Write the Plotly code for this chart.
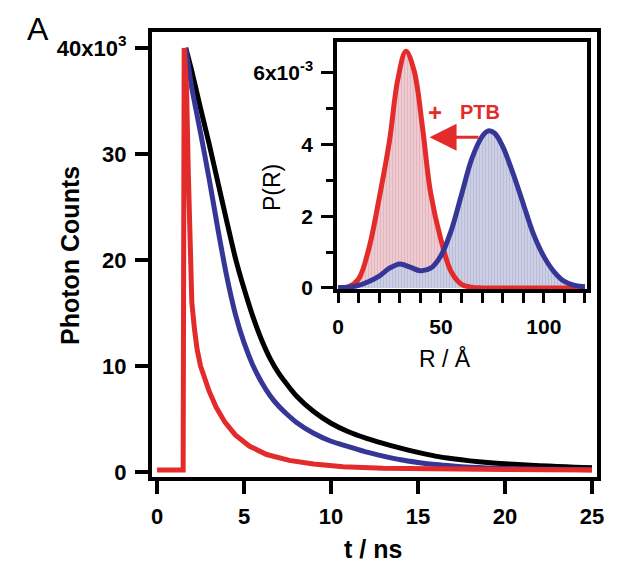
import plotly.graph_objects as go

# decay curves (t in ns, photon counts)
t_decay = [1.65, 2.0, 2.5, 3.0, 3.5, 4.0, 4.5, 5.0, 5.5, 6.0, 6.5, 7.0, 7.5, 8.0, 9.0, 10.0,
           11.0, 12.0, 13.0, 14.0, 15.0, 16.0, 17.0, 18.0, 19.0, 20.0, 21.0, 22.0, 23.0, 24.0, 25.0]
counts_black = [40000, 37800, 34300, 30900, 27300, 23700, 20200, 17300, 14700, 12500, 10700,
                9300, 8200, 7200, 5700, 4600, 3800, 3200, 2700, 2250, 1850, 1500, 1250, 1050, 900,
                780, 680, 600, 520, 460, 400]
counts_blue = [40000, 36200, 32000, 27600, 22900, 18500, 14900, 12200, 10100, 8500, 7200, 6200,
               5400, 4700, 3650, 2900, 2400, 1900, 1500, 1150, 900, 700, 560, 460, 390, 340,
               300, 270, 250, 230, 220]

t_red = [0, 1.5, 1.56, 1.7, 1.8, 1.9, 2.0, 2.15, 2.3, 2.5, 2.75, 3.0, 3.4, 3.9, 4.5, 5.3, 6.3,
         7.6, 9.0, 10.7, 13.0, 16.0, 20.0, 25.0]
counts_red = [200, 200, 40000, 36000, 28000, 20500, 16000, 13500, 11600, 10000, 8700, 7600, 6100,
              4700, 3500, 2450, 1650, 1100, 750, 500, 350, 280, 230, 200]

# distance distributions (R in Angstrom, P(R) in units of 1e-3)
r_red = [0, 5, 10, 15, 20, 25, 29, 33, 37, 41, 45, 50, 55, 60, 65, 70, 80, 90, 100, 110, 120]
p_red = [0, 0.03, 0.25, 1.1, 2.5, 4.1, 5.8, 6.6, 6.05, 4.5, 2.65, 1.35, 0.45, 0.1, 0.02, 0, 0, 0,
         0, 0, 0]

r_blue = [0, 5, 10, 15, 20, 25, 30, 35, 40, 45, 50, 55, 60, 65, 70, 73, 76, 80, 85, 90, 95, 100,
          105, 110, 115, 120]
p_blue = [0.01, 0.02, 0.07, 0.18, 0.33, 0.55, 0.67, 0.58, 0.48, 0.55, 0.9, 1.6, 2.6, 3.6, 4.22,
          4.38, 4.32, 3.95, 3.2, 2.35, 1.5, 0.88, 0.45, 0.18, 0.07, 0.03]

RED = '#E42B2B'
BLUE = '#363696'

fig = go.Figure()

fig.add_trace(go.Scatter(x=t_decay, y=counts_black, mode='lines',
                         line=dict(color='black', width=5, shape='spline', smoothing=0.6)))
fig.add_trace(go.Scatter(x=t_decay, y=counts_blue, mode='lines',
                         line=dict(color=BLUE, width=5, shape='spline', smoothing=0.6)))
fig.add_trace(go.Scatter(x=t_red, y=counts_red, mode='lines',
                         line=dict(color=RED, width=5)))

# inset fills
fig.add_trace(go.Scatter(x=r_red, y=p_red, mode='lines', xaxis='x2', yaxis='y2',
                         line=dict(color=RED, width=0, shape='spline'), fill='tozeroy',
                         fillcolor='rgba(236,198,203,1)',
                         fillpattern=dict(shape='|', fgcolor='rgba(212,158,168,1)',
                                          bgcolor='rgba(238,203,208,1)', size=3, solidity=0.3)))
fig.add_trace(go.Scatter(x=r_blue, y=p_blue, mode='lines', xaxis='x2', yaxis='y2',
                         line=dict(color=BLUE, width=0, shape='spline'), fill='tozeroy',
                         fillcolor='rgba(200,204,225,1)',
                         fillpattern=dict(shape='|', fgcolor='rgba(160,165,205,1)',
                                          bgcolor='rgba(205,208,228,1)', size=3, solidity=0.3)))
fig.add_trace(go.Scatter(x=r_red, y=p_red, mode='lines', xaxis='x2', yaxis='y2',
                         line=dict(color=RED, width=5, shape='spline')))
fig.add_trace(go.Scatter(x=r_blue, y=p_blue, mode='lines', xaxis='x2', yaxis='y2',
                         line=dict(color=BLUE, width=5, shape='spline')))

# the page puts the figure 8 px in from the top-left corner
OFF = 8
L, R, T, B = 144, 24, 24, 85
W, H = 621 - OFF, 562 - OFF
pw, ph = W - L - R, H - T - B


def px(x):
    return (x - OFF - L) / pw


def py(y):
    return (OFF + T + ph - y) / ph


fig.update_layout(
    width=W, height=H,
    margin=dict(l=L, r=R, t=T, b=B),
    paper_bgcolor='white', plot_bgcolor='white',
    showlegend=False,
    font=dict(family='Liberation Sans, Arial, sans-serif', color='black'),
    xaxis=dict(range=[-0.29, 25.29], domain=[0, 1], tickvals=[0, 5, 10, 15, 20, 25],
               ticks='outside', ticklen=13, tickwidth=4, tickcolor='black',
               showline=True, linewidth=4, linecolor='black', mirror=True,
               showgrid=False, zeroline=False,
               tickfont=dict(size=22, weight='bold'), ticklabelstandoff=4),
    yaxis=dict(range=[-470, 41500], domain=[0, 1],
               tickvals=[0, 10000, 20000, 30000, 40000],
               ticktext=['0', '10', '20', '30', '40x10<sup>3</sup>'],
               ticks='outside', ticklen=13, tickwidth=4, tickcolor='black',
               showline=True, linewidth=4, linecolor='black', mirror=True,
               showgrid=False, zeroline=False,
               tickfont=dict(size=22, weight='bold'), ticklabelstandoff=4),
    xaxis2=dict(range=[-0.5, 121], domain=[px(337), px(587)], anchor='y2',
                tickvals=[0, 50, 100], ticks='outside', ticklen=10, tickwidth=3,
                tickcolor='black',
                minor=dict(dtick=10, ticks='outside', ticklen=10, tickwidth=3,
                           tickcolor='black', showgrid=False),
                showline=True, linewidth=3.5, linecolor='black', mirror=True,
                showgrid=False, zeroline=False,
                tickfont=dict(size=21, weight='bold'), ticklabelstandoff=6),
    yaxis2=dict(range=[-0.03, 6.86], domain=[py(289), py(42)], anchor='x2',
                tickvals=[0, 2, 4, 6], ticktext=['0', '2', '4', '6x10<sup>-3</sup>'],
                ticks='outside', ticklen=12, tickwidth=3, tickcolor='black',
                minor=dict(tickvals=[1, 3, 5], ticks='outside', ticklen=7, tickwidth=3,
                           tickcolor='black', showgrid=False),
                showline=True, linewidth=3.5, linecolor='black', mirror=True,
                showgrid=False, zeroline=False,
                tickfont=dict(size=21, weight='bold'), ticklabelstandoff=4),
)

annots = [
    dict(text='Photon Counts', x=px(70), y=py(256), textangle=-90,
         font=dict(size=25, weight='bold')),
    dict(text='t / ns', x=px(373), y=py(549), font=dict(size=25, weight='bold')),
    dict(text='R / Å', x=px(445), y=py(358), font=dict(size=23)),
    dict(text='P(R)', x=px(272), y=py(188), textangle=-90, font=dict(size=23)),
]
for a in annots:
    fig.add_annotation(xref='paper', yref='paper', showarrow=False,
                       xanchor='center', yanchor='middle', **a)

fig.add_annotation(xref='paper', yref='paper', showarrow=False, text='A',
                   x=px(38), y=py(9), xanchor='center', yanchor='top',
                   font=dict(size=32))

# + PTB arrow in the inset
fig.add_annotation(xref='x2', yref='y2', axref='x2', ayref='y2',
                   x=44.5, y=4.2, ax=69, ay=4.2, text='', showarrow=True,
                   arrowhead=2, arrowsize=1.8, arrowwidth=3, arrowcolor=RED)
fig.add_annotation(xref='x2', yref='y2', x=47.2, y=4.9, text='+', showarrow=False,
                   font=dict(size=24, color=RED, weight='bold'))
fig.add_annotation(xref='x2', yref='y2', x=69, y=4.9, text='PTB', showarrow=False,
                   font=dict(size=20, color=RED, weight='bold'))

fig.write_html("out.html")
